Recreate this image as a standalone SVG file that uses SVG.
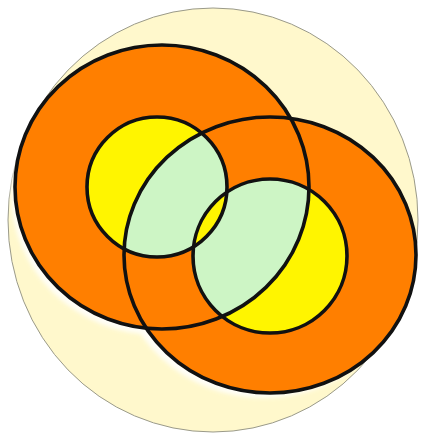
<svg xmlns="http://www.w3.org/2000/svg" width="421" height="435" viewBox="0 0 421 435">
  <style>
    .orange { fill: #FF7F00; }
    .yellow { fill: #FFF500; }
    .green { fill: #CDF5C5; }
    .line { fill: none; stroke: #111; stroke-width: 3.6; }
  </style>
  <defs>
    <clipPath id="clipLeftOuter"><ellipse cx="162" cy="187" rx="147" ry="142"/></clipPath>
    <clipPath id="clipRightOuter"><ellipse cx="270" cy="255" rx="146" ry="138"/></clipPath>
    <clipPath id="clipRightYellow"><circle cx="270" cy="256" r="77"/></clipPath>
    <filter id="soft" x="-10%" y="-10%" width="120%" height="120%"><feGaussianBlur stdDeviation="2"/></filter>
  </defs>
  <rect width="421" height="435" fill="#FFFFFF"/>
  <g id="background">
    <ellipse cx="213" cy="220" rx="205" ry="212" fill="#FFF8CC" stroke="#9A9A8A" stroke-width="1"/>
  </g>
  <g id="halo" filter="url(#soft)" fill="#FFFFFF" opacity="0.85">
    <ellipse cx="264" cy="260" rx="146" ry="138"/>
    <ellipse cx="158" cy="193" rx="147" ry="142"/>
  </g>
  <g id="left-outer">
    <ellipse class="orange" cx="162" cy="187" rx="147" ry="142"/>
  </g>
  <g id="right-outer">
    <ellipse class="orange" cx="270" cy="255" rx="146" ry="138"/>
  </g>
  <g id="left-inner">
    <circle class="yellow" cx="157" cy="187" r="70"/>
    <circle class="green" cx="157" cy="187" r="70" clip-path="url(#clipRightOuter)"/>
  </g>
  <g id="right-inner">
    <circle class="yellow" cx="270" cy="256" r="77"/>
    <circle class="green" cx="270" cy="256" r="77" clip-path="url(#clipLeftOuter)"/>
  </g>
  <g id="center-lens">
    <circle class="yellow" cx="157" cy="187" r="70" clip-path="url(#clipRightYellow)"/>
  </g>
  <g id="outlines">
    <ellipse class="line" cx="162" cy="187" rx="147" ry="142"/>
    <ellipse class="line" cx="270" cy="255" rx="146" ry="138"/>
    <circle class="line" cx="157" cy="187" r="70"/>
    <circle class="line" cx="270" cy="256" r="77"/>
  </g>
</svg>
